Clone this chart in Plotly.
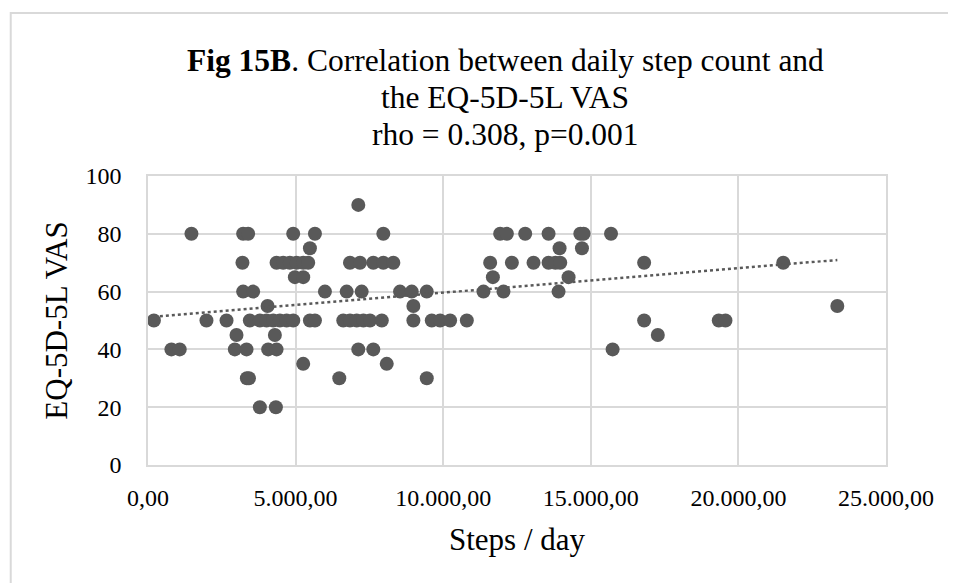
import numpy as np
import plotly.graph_objects as go

# daily step count and EQ-5D-5L VAS
steps = [
    200, 1980, 2660, 3450, 3790, 4016, 4242, 4468, 4695, 4921, 5485, 5655, 6615,
    6842, 7069, 7296, 7521, 7920, 8990, 9613, 9895, 10234, 10800, 16807, 19335, 19562,
    793, 1075, 2941, 3338, 4071, 4355, 7124, 7632, 15739,
    2998, 4298, 17270,
    3350, 3420, 6480, 9443,
    3789, 4332,
    5258, 8087,
    4050, 8990, 23351,
    3223, 3562, 5994, 6730, 7238, 8537, 8935, 9443, 11364, 12042, 13908,
    4976, 5258, 11683, 14247,
    3200, 4355, 4580, 4807, 5034, 5258, 5427, 6842, 7181, 7632, 7972, 8311,
    11591, 12327, 13060, 13569, 13800, 13965, 16807, 21520,
    5485, 13942, 14700,
    1472, 3223, 3392, 4919, 5655, 7972, 11930, 12157, 12778, 13569, 14645, 14757, 15685,
    7124,
]
vas = (
    [50] * 26 + [40] * 9 + [45] * 3 + [30] * 4 + [20] * 2 + [35] * 2 + [55] * 3
    + [60] * 11 + [65] * 4 + [70] * 20 + [75] * 3 + [80] * 13 + [90] * 1
)

title_lines = [
    "<b>Fig 15B</b>. Correlation between daily step count and",
    "the EQ-5D-5L VAS",
    "rho = 0.308, p=0.001",
]

GREY = "#595959"
GRID = "#d9d9d9"
FONT = "Liberation Serif"

# linear trendline (least squares, like the spreadsheet one)
slope, intercept = np.polyfit(steps, vas, 1)
trend_x = [min(steps), max(steps)]
trend_y = [slope * v + intercept for v in trend_x]

fig = go.Figure()
fig.add_trace(go.Scatter(x=steps, y=vas, mode="markers",
                         marker=dict(color=GREY, size=14, line=dict(width=0)),
                         showlegend=False))
fig.add_trace(go.Scatter(x=trend_x, y=trend_y, mode="lines",
                         line=dict(color=GREY, width=2.5, dash="dot"),
                         showlegend=False))

for text, ypos in zip(title_lines, [1.398, 1.270, 1.145]):
    fig.add_annotation(text=text, x=0.484, y=ypos, xref="paper", yref="paper",
                       xanchor="center", yanchor="middle", showarrow=False,
                       font=dict(family=FONT, size=31.5, color="#000000"))

# outer chart frame
fig.add_shape(type="rect", xref="paper", yref="paper",
              x0=-0.186, x1=1.3, y0=-0.6, y1=1.564,
              line=dict(color=GRID, width=2), layer="below")

fig.update_xaxes(range=[0, 25000], dtick=5000, tickformat=",.2f",
                 showgrid=True, gridcolor=GRID, gridwidth=1.5, zeroline=False,
                 showline=True, linecolor=GRID, linewidth=1.5, mirror=True,
                 ticklabelstandoff=10,
                 tickfont=dict(family=FONT, size=24, color="#000000"),
                 title=dict(text="Steps / day", standoff=19,
                            font=dict(family=FONT, size=31, color="#000000")))
fig.update_yaxes(range=[0, 100], dtick=20,
                 showgrid=True, gridcolor=GRID, gridwidth=1.5, zeroline=False,
                 showline=True, linecolor=GRID, linewidth=1.5, mirror=True,
                 ticklabelstandoff=20,
                 tickfont=dict(family=FONT, size=24, color="#000000"),
                 title=dict(text="EQ-5D-5L VAS", standoff=9,
                            font=dict(family=FONT, size=31, color="#000000")))

fig.update_layout(width=956, height=583, separators=",.",
                  margin=dict(l=140, r=78, t=168, b=126, autoexpand=False),
                  plot_bgcolor="white", paper_bgcolor="white")

fig.write_html("out.html")
